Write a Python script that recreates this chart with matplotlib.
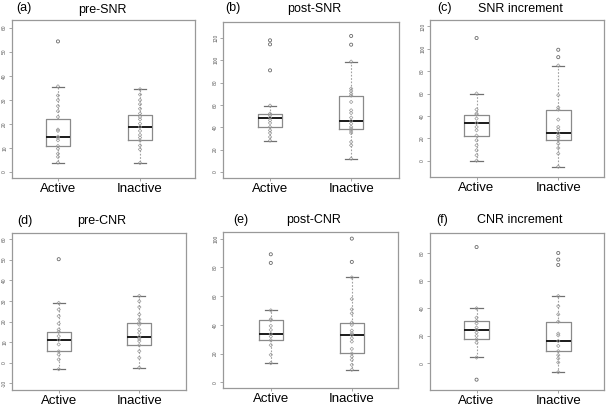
import numpy as np
import matplotlib
matplotlib.use("Agg")
import matplotlib.pyplot as plt

plt.rcParams['font.family'] = ['Liberation Sans', 'DejaVu Sans']

W, H = 606, 408

tags = ["(a)", "(b)", "(c)", "(d)", "(e)", "(f)"]
titles = ["pre-SNR", "post-SNR", "SNR increment", "pre-CNR", "post-CNR", "CNR increment"]
groups = ["Active", "Inactive"]

# box statistics per panel: [Active, Inactive]
whislo = [[3.9, 3.75], [28.1, 11.9], [0.0, -5.4], [-3.1, -2.4], [13.4, 8.8], [4.1, -6.5]]
q1 = [[10.8, 13.1], [40.3, 38.5], [22.4, 18.2], [5.5, 8.5], [29.3, 20.1], [17.3, 8.7]]
med = [[14.7, 18.75], [48.7, 45.7], [33.7, 24.5], [11.1, 12.6], [33.7, 33.0], [24.1, 16.1]]
q3 = [[21.9, 23.9], [52.2, 68.4], [41.2, 45.7], [15.0, 19.4], [43.2, 41.6], [30.6, 30.1]]
whishi = [[35.5, 34.4], [59.4, 98.8], [60.0, 85.0], [29.0, 32.4], [50.1, 73.0], [39.8, 48.7]]

fliers_active = [[54.3], [117.9, 114.3, 91.0], [109.6], [50.2], [89.1, 83.1], [84.3, -12.0]]
fliers_inactive = [[], [121.8, 114.0], [99.1, 92.5], [], [100.0, 83.8], [80.0, 75.2, 71.3]]

pts_active = [
    [35.6, 31.8, 29.9, 27.4, 25.3, 22.9, 17.6, 17.1, 14.7, 14.2, 13.2, 10.8, 9.7, 7.6, 6.3, 3.9],
    [59.4, 52.2, 50.7, 48.7, 46.3, 43.9, 40.3, 37.3, 34.9, 31.3, 28.1],
    [60.0, 45.7, 42.1, 41.2, 37.6, 33.7, 30.1, 27.2, 22.4, 18.2, 13.7, 9.3, 4.8, 0.0],
    [29.0, 25.8, 22.6, 19.0, 16.1, 15.0, 12.9, 11.1, 8.9, 5.5, 4.0, 1.6, -3.1],
    [50.1, 43.9, 43.2, 39.3, 36.5, 33.7, 31.9, 29.3, 25.9, 19.2, 13.4],
    [39.8, 33.0, 30.6, 28.9, 25.8, 24.1, 22.2, 19.8, 17.3, 14.9, 4.1],
]
pts_inactive = [
    [34.4, 32.2, 29.9, 28.2, 26.3, 24.3, 22.9, 21.9, 20.1, 18.75, 17.1, 15.4, 14.3, 13.1, 11.0, 9.4, 3.75],
    [98.8, 74.6, 72.5, 70.1, 68.4, 62.7, 55.2, 52.8, 48.7, 45.7, 43.3, 40.3, 38.5, 36.7, 34.9, 26.9, 23.9, 11.9],
    [85.0, 58.5, 47.5, 45.7, 36.7, 30.1, 27.8, 24.5, 22.4, 20.6, 18.2, 15.2, 11.3, 6.3, -5.4],
    [32.4, 29.8, 27.0, 23.4, 21.0, 19.4, 18.5, 16.1, 14.5, 12.6, 11.6, 10.5, 8.5, 5.6, 2.4, -2.4],
    [73.0, 58.0, 50.8, 48.0, 41.6, 40.0, 36.0, 34.2, 33.0, 30.7, 28.4, 23.3, 20.1, 18.0, 15.7, 12.2, 8.8],
    [48.7, 41.4, 35.4, 30.1, 21.4, 20.2, 16.1, 12.5, 8.7, 5.8, 3.4, 0.5, -6.5],
]

yticks = [
    [0, 10, 20, 30, 40, 50, 60],
    [0, 20, 40, 60, 80, 100, 120],
    [0, 20, 40, 60, 80, 100, 120],
    [-10, 0, 10, 20, 30, 40, 50, 60],
    [0, 20, 40, 60, 80, 100],
    [0, 20, 40, 60, 80],
]

# layout (pixels): left, top, right, bottom
rects = [(12, 20, 195, 178), (223, 22, 399, 178), (430, 20, 604, 177),
         (12, 233, 186, 390), (223, 232, 398, 388), (430, 233, 604, 390)]
ylims = [(-2.5, 63.2), (-5.4, 134.3), (-14.6, 125.7), (-13.2, 62.9), (-3.9, 104.6), (-19.5, 94.5)]
xlims = [(0.44, 2.67), (0.42, 2.59), (0.43, 2.56), (0.42, 2.58), (0.41, 2.57), (0.43, 2.56)]
tag_pos = [(16, 8), (225, 8), (437, 8), (17, 221), (233, 220), (436, 220)]
title_pos = [(102, 10), (314, 9), (520, 9), (102, 221), (314, 220), (520, 220)]

fig = plt.figure(figsize=(W / 100, H / 100), dpi=100)

for i in range(6):
    l, t, r, b = rects[i]
    ax = fig.add_axes([l / W, 1 - b / H, (r - l) / W, (b - t) / H])
    stats = []
    for j in range(2):
        stats.append(dict(whislo=whislo[i][j], q1=q1[i][j], med=med[i][j],
                          q3=q3[i][j], whishi=whishi[i][j], fliers=[]))
    ax.bxp(stats, positions=[1, 2], widths=0.3, capwidths=0.15, showfliers=False,
           boxprops=dict(color='#8a8a8a', lw=0.9),
           medianprops=dict(color='#1a1a1a', lw=1.4),
           whiskerprops=dict(color='#a0a0a0', lw=0.8, ls=(0, (1.5, 1.5))),
           capprops=dict(color='#707070', lw=0.9))
    for j, (pts, fl) in enumerate([(pts_active[i], fliers_active[i]),
                                    (pts_inactive[i], fliers_inactive[i])]):
        ax.scatter(np.full(len(pts), j + 1), pts, s=3, marker='D',
                   facecolors='none', edgecolors='#999999', linewidths=0.5, zorder=3)
        ax.scatter(np.full(len(fl), j + 1), fl, s=5, marker='o',
                   facecolors='none', edgecolors='#6a6a6a', linewidths=0.6, zorder=3)
    ax.set_xlim(*xlims[i])
    ax.set_ylim(*ylims[i])
    ax.set_xticks([1, 2])
    ax.set_xticklabels(groups, fontsize=9.5)
    ax.set_yticks(yticks[i])
    ax.set_yticklabels([str(v) for v in yticks[i]], fontsize=3.5, rotation=90,
                       va='center', color='#555555')
    ax.tick_params(axis='x', length=2, width=0.6, color='#999999', pad=1.5)
    ax.tick_params(axis='y', length=2, width=0.6, color='#999999', pad=1.5)
    for s in ax.spines.values():
        s.set_color('#999999')
        s.set_linewidth(0.9)

    fig.text(tag_pos[i][0] / W, 1 - tag_pos[i][1] / H, tags[i], fontsize=9,
             ha='left', va='center')
    fig.text(title_pos[i][0] / W, 1 - title_pos[i][1] / H, titles[i], fontsize=9,
             ha='center', va='center')

fig.savefig("out.png", dpi=100)
